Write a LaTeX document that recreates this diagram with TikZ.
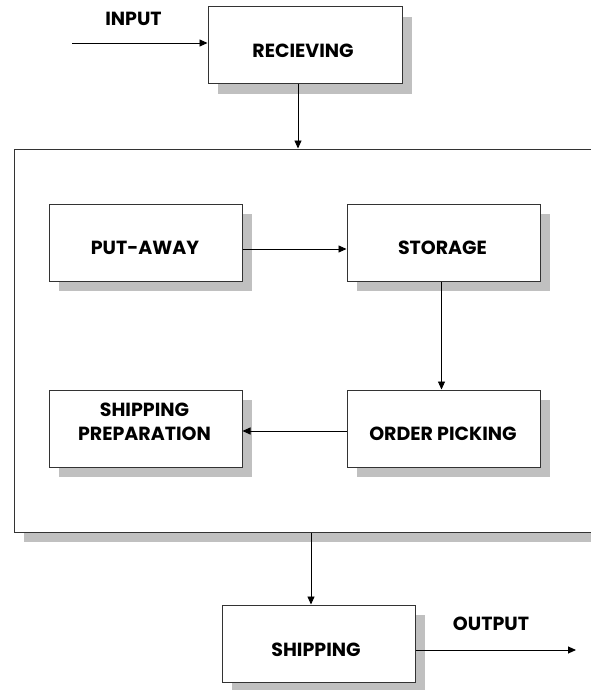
\documentclass[tikz,border=0pt]{standalone}
\usepackage{fontspec}
\setmainfont{Poppins}
\usetikzlibrary{arrows.meta,shadows}
\definecolor{shadowgray}{HTML}{C0C0C0}
\definecolor{linegray}{HTML}{333333}
\tikzset{
  boxnode/.style={draw=linegray, line width=1pt, fill=white, inner sep=0pt,
    minimum width=193pt, minimum height=77pt,
    general shadow={fill=shadowgray, draw=none, shadow xshift=10pt, shadow yshift=-10pt}},
  lbl/.style={font=\fontsize{19}{24}\selectfont\bfseries, text=black, inner sep=0pt, align=center},
  conn/.style={draw=black, line width=0.9pt, -{Triangle[length=8pt,width=7pt]}}
}
\begin{document}
\begin{tikzpicture}[x=1pt,y=-1pt]
\useasboundingbox (0,0) rectangle (591,690);
\clip (0,0) rectangle (591,690);
% big enclosing box
\node[boxnode, minimum width=586pt, minimum height=383pt] (big) at (307,340.5) {};
% boxes
\node[boxnode, minimum width=194pt] (rec) at (305,45.5) {};
\node[boxnode] (put) at (145.5,242.5) {};
\node[boxnode] (sto) at (443.5,242.5) {};
\node[boxnode] (ord) at (443.5,428.5) {};
\node[boxnode] (prep) at (145.5,428.5) {};
\node[boxnode] (ship) at (318.5,643.5) {};
% texts
\node[lbl] (tin) at (133.5,18.5) {INPUT};
\node[lbl] (trec) at (303,51) {RECIEVING};
\node[lbl] (tput) at (145,248) {PUT-AWAY};
\node[lbl] (tsto) at (442.5,248) {STORAGE};
\node[lbl] (tord) at (443,434) {ORDER PICKING};
\node[lbl] (tprep) at (144.5,422) {SHIPPING\\PREPARATION};
\node[lbl] (tship) at (316,650) {SHIPPING};
\node[lbl] (tout) at (491,624) {OUTPUT};
% coordinates
\coordinate (inp) at (72,43);
\coordinate (outp) at (576,650);
\coordinate (xrec) at (298,0);
\coordinate (xship) at (311,0);
% connectors
\draw[conn] (inp) -- (inp -| rec.west);
\draw[conn] (rec.south -| xrec) -- (big.north -| xrec);
\draw[conn] ([yshift=-6.5pt]put.east) -- ([yshift=-6.5pt]sto.west);
\draw[conn] ([xshift=-2pt]sto.south) -- ([xshift=-2pt]ord.north);
\draw[conn] ([yshift=-2.5pt]ord.west) -- ([yshift=-2.5pt]prep.east);
\draw[conn] (big.south -| xship) -- (ship.north -| xship);
\draw[conn] (ship.east |- outp) -- (outp);
\end{tikzpicture}
\end{document}
